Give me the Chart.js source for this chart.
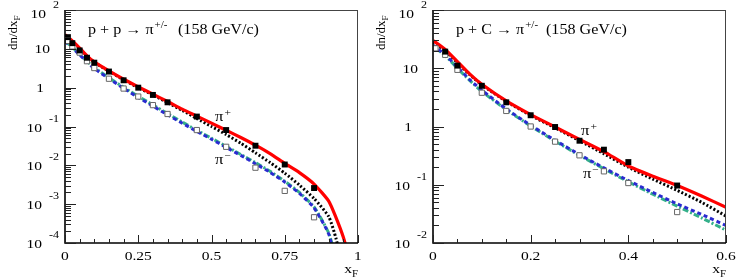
<!DOCTYPE html>
<html>
<head>
<meta charset="utf-8">
<script src="https://cdn.jsdelivr.net/npm/chart.js@4"></script>
<style>
  body { margin: 0; background: #fff; }
  canvas { position: absolute; top: 0; }
</style>
</head>
<body>
<canvas id="pp" width="368" height="278" style="left:0"></canvas>
<canvas id="pc" width="368" height="278" style="left:368px"></canvas>
<script>
// ---- p + p data (NA49 style points) ----
const ppPlusX = [0.01, 0.025, 0.05, 0.075, 0.1, 0.15, 0.2, 0.25, 0.3, 0.35, 0.45, 0.55, 0.65, 0.75, 0.85];
const ppPlus = [20, 14, 9.1, 5.9, 4.4, 2.6, 1.55, 1.0, 0.65, 0.42, 0.18, 0.081, 0.032, 0.0105, 0.0026];
const ppMinusX = [0.01, 0.025, 0.05, 0.075, 0.1, 0.15, 0.2, 0.25, 0.3, 0.35, 0.45, 0.55, 0.65, 0.75, 0.85];
const ppMinus = [16, 11.5, 8.0, 4.8, 3.2, 1.7, 0.95, 0.59, 0.355, 0.21, 0.081, 0.03, 0.0087, 0.0022, 0.00046];

// model curves p + p
const ppModelX = [0, 0.025, 0.05, 0.075, 0.1, 0.15, 0.2, 0.25, 0.3, 0.35, 0.4, 0.45, 0.5, 0.55, 0.6, 0.65, 0.7, 0.75, 0.8, 0.85, 0.9, 0.925, 0.95, 0.975];
const ppRed = [23, 16, 10.5, 6.6, 4.6, 2.7, 1.65, 1.05, 0.68, 0.44, 0.28, 0.185, 0.122, 0.08, 0.052, 0.033, 0.02, 0.0112, 0.0065, 0.0033, 0.0012, 0.00045, 0.00014, 0.00003];
const ppBlack = [21, 15, 10, 6.4, 4.5, 2.65, 1.6, 1.0, 0.65, 0.41, 0.26, 0.16, 0.1, 0.062, 0.037, 0.021, 0.0118, 0.0063, 0.0031, 0.0014, 0.00048, 0.00013, 0.00002, 0.000005];
const ppGreen = [16, 11, 7.3, 4.8, 3.3, 1.8, 1.02, 0.6, 0.36, 0.215, 0.13, 0.08, 0.05, 0.031, 0.019, 0.0118, 0.007, 0.0039, 0.002, 0.00085, 0.00018, 0.00004, 0.00001, 0.000002];
const ppBlue = [15.5, 10.5, 7.0, 4.6, 3.1, 1.7, 0.96, 0.56, 0.335, 0.2, 0.122, 0.075, 0.047, 0.029, 0.018, 0.011, 0.0066, 0.0037, 0.0019, 0.0008, 0.00017, 0.00003, 0.00001, 0.000002];

// ---- p + C data ----
const pcPlusX = [0.025, 0.05, 0.1, 0.15, 0.2, 0.25, 0.3, 0.35, 0.4, 0.5];
const pcPlus = [19.3, 11.1, 5.0, 2.6, 1.56, 0.98, 0.57, 0.40, 0.245, 0.097];
const pcMinusX = [0.005, 0.025, 0.05, 0.1, 0.15, 0.2, 0.25, 0.3, 0.35, 0.4, 0.5];
const pcMinus = [22, 17, 9.4, 3.8, 1.85, 1.0, 0.55, 0.32, 0.17, 0.107, 0.034];

const pcModelX = [0, 0.025, 0.05, 0.075, 0.1, 0.15, 0.2, 0.25, 0.3, 0.35, 0.4, 0.45, 0.5, 0.55, 0.6];
const pcRed = [30, 21, 13, 8.0, 5.3, 2.75, 1.6, 0.98, 0.6, 0.37, 0.21, 0.14, 0.097, 0.064, 0.041];
const pcBlack = [28, 20, 12.5, 7.8, 5.2, 2.7, 1.55, 0.95, 0.57, 0.34, 0.2, 0.125, 0.08, 0.05, 0.029];
const pcBlue = [25, 17, 10.5, 6.4, 4.2, 2.0, 1.05, 0.58, 0.33, 0.195, 0.118, 0.074, 0.047, 0.031, 0.02];
const pcGreen = [24, 16.5, 10, 6.2, 4.0, 1.95, 1.02, 0.56, 0.32, 0.188, 0.112, 0.069, 0.043, 0.027, 0.0166];

// tick labels
const ppXTicks = [0, 0.25, 0.5, 0.75, 1];
const ppXTickLabels = ['0', '0.25', '0.5', '0.75', '1'];
const ppYExp = [2, 1, 0, -1, -2, -3, -4];
const pcXTicks = [0, 0.2, 0.4, 0.6];
const pcXTickLabels = ['0', '0.2', '0.4', '0.6'];
const pcYExp = [2, 1, 0, -1, -2];

const FONT = '"Liberation Serif", "Times New Roman", serif';
const SX = 1.15; // text in the reference is a bit wide

function txt(ctx, s, x, y, size, align) {
  ctx.save();
  ctx.font = size + 'px ' + FONT;
  ctx.translate(x, y);
  ctx.scale(SX, 1);
  ctx.textAlign = align || 'left';
  ctx.textBaseline = 'alphabetic';
  ctx.fillStyle = '#000';
  ctx.fillText(s, 0, 0);
  ctx.restore();
}
function txtW(ctx, s, size) {
  ctx.save();
  ctx.font = size + 'px ' + FONT;
  const w = ctx.measureText(s).width * SX;
  ctx.restore();
  return w;
}

function pts(xs, ys) {
  return xs.map((x, i) => ({ x: x, y: ys[i] }));
}

// frame, ticks and all the text, drawn after the data
const rootAxes = {
  id: 'rootAxes',
  afterDraw(chart, args, o) {
    const ctx = chart.ctx;
    const a = chart.chartArea;
    const xs = chart.scales.x, ys = chart.scales.y;
    ctx.save();
    // frame
    ctx.strokeStyle = '#444';
    ctx.lineWidth = 1;
    ctx.beginPath();
    ctx.moveTo(a.left, a.top + 0.5); ctx.lineTo(a.right, a.top + 0.5);
    ctx.moveTo(a.right - 0.5, a.top); ctx.lineTo(a.right - 0.5, a.bottom);
    ctx.stroke();
    ctx.strokeStyle = '#000';
    ctx.lineWidth = 1.6;
    ctx.beginPath();
    ctx.moveTo(a.left, a.top); ctx.lineTo(a.left, a.bottom); ctx.lineTo(a.right, a.bottom);
    ctx.stroke();

    // y ticks (inside, major at decades)
    ctx.lineWidth = 1;
    ctx.strokeStyle = '#222';
    ctx.beginPath();
    const eMin = Math.min.apply(null, o.yExp), eMax = Math.max.apply(null, o.yExp);
    for (let e = eMin; e < eMax; e++) {
      for (let m = 1; m < 10; m++) {
        const yy = Math.round(ys.getPixelForValue(m * Math.pow(10, e))) + 0.5;
        const len = m === 1 ? 11 : 6;
        ctx.moveTo(a.left, yy); ctx.lineTo(a.left + len, yy);
      }
    }
    ctx.moveTo(a.left, a.top + 0.5); ctx.lineTo(a.left + 11, a.top + 0.5);
    // x ticks
    const nMinor = Math.round(o.xMax / o.xMinor);
    for (let i = 0; i <= nMinor; i++) {
      const v = i * o.xMinor;
      const xx = Math.round(xs.getPixelForValue(v)) + 0.5;
      const major = o.xTicks.some(t => Math.abs(t - v) < 1e-6);
      ctx.moveTo(xx, a.bottom); ctx.lineTo(xx, a.bottom - (major ? 8 : 4));
    }
    ctx.stroke();

    // y tick labels
    o.yExp.forEach(e => {
      const yy = ys.getPixelForValue(Math.pow(10, e));
      if (e === 0) {
        txt(ctx, '1', 44, yy + 4.5, 13.5, 'right');
      } else if (e === 1) {
        txt(ctx, '10', 50, yy + 4.5, 13.5, 'right');
      } else {
        const ex = e < 0 ? '-' + (-e) : String(e);
        const base = e === 2 ? yy + 7.5 : yy + 5;
        txt(ctx, ex, 59, e === 2 ? 8 : yy - 5, 10.5, 'right');
        const exW = txtW(ctx, ex, 10.5);
        txt(ctx, '10', 59 - exW - 7, base, 13.5, 'right');
      }
    });
    // x tick labels
    o.xTicks.forEach((t, i) => {
      txt(ctx, o.xLabels[i], xs.getPixelForValue(t), a.bottom + 17, 13.5, 'center');
    });

    // axis titles
    txt(ctx, 'F', a.right, a.bottom + 34, 9.5, 'right');
    txt(ctx, 'x', a.right - txtW(ctx, 'F', 9.5), a.bottom + 30, 13.5, 'right');
    ctx.save();
    ctx.translate(17, 50);
    ctx.rotate(-Math.PI / 2);
    ctx.font = '13px ' + FONT;
    ctx.fillStyle = '#000';
    ctx.fillText('dn/dx', 0, 0);
    const w = ctx.measureText('dn/dx').width;
    ctx.font = '9px ' + FONT;
    ctx.fillText('F', w, 3);
    ctx.restore();

    // panel title
    let x0 = 88;
    txt(ctx, o.title, x0, 34, 14, 'left');
    x0 += txtW(ctx, o.title, 14) + 1;
    txt(ctx, '+/-', x0, 28, 9.5, 'left');
    txt(ctx, '(158 GeV/c)', 178, 34, 14, 'left');

    // pi labels
    o.piLabels.forEach(p => {
      const px = xs.getPixelForValue(p.x), py = ys.getPixelForValue(p.y);
      txt(ctx, '\u03c0', px, py + 4, 14.5, 'left');
      txt(ctx, p.s, px + txtW(ctx, '\u03c0', 14.5) + 1, py - 1, 10, 'left');
    });
    ctx.restore();
  }
};

function lineSet(data, color, width, dash, order) {
  return {
    data: data, borderColor: color, borderWidth: width, borderDash: dash,
    pointRadius: 0, fill: false, tension: 0.2, order: order, clip: 0,
    borderCapStyle: 'butt'
  };
}
function markSet(data, filled, order) {
  return {
    data: data, showLine: false, pointStyle: 'rect', pointRadius: filled ? 4.2 : 3.7,
    pointBackgroundColor: filled ? '#000' : '#fff',
    pointBorderColor: filled ? '#000' : '#666',
    pointBorderWidth: filled ? 0 : 1, order: order
  };
}

function makeChart(id, mx, red, black, green, blue, plus, minus, o) {
  return new Chart(document.getElementById(id), {
    type: 'line',
    data: {
      datasets: [
        markSet(plus, true, 0),
        markSet(minus, false, 1),
        lineSet(pts(mx, red), '#ff0000', 3.2, [], 2),
        lineSet(pts(mx, black), '#000', 3, [2, 2], 3),
        lineSet(pts(mx, blue), '#2a2ad0', 3, [4, 3], 4),
        lineSet(pts(mx, green), '#34b08a', 3, [6, 2, 2, 2], 5)
      ]
    },
    options: {
      responsive: false,
      animation: false,
      devicePixelRatio: 1,
      layout: { padding: { left: 65, right: 10, top: 10, bottom: 35 } },
      plugins: { legend: { display: false }, tooltip: { enabled: false }, rootAxes: o },
      scales: {
        x: { type: 'linear', min: 0, max: o.xMax, display: false },
        y: { type: 'logarithmic', min: Math.pow(10, Math.min.apply(null, o.yExp)), max: 100, display: false }
      }
    },
    plugins: [rootAxes]
  });
}

makeChart('pp', ppModelX, ppRed, ppBlack, ppGreen, ppBlue,
  pts(ppPlusX, ppPlus), pts(ppMinusX, ppMinus), {
    xMax: 1, xMinor: 0.05, xTicks: ppXTicks, xLabels: ppXTickLabels, yExp: ppYExp,
    title: 'p + p \u2192 \u03c0',
    piLabels: [{ x: 0.512, y: 0.176, s: '+' }, { x: 0.512, y: 0.0135, s: '\u2212' }]
  });

makeChart('pc', pcModelX, pcRed, pcBlack, pcGreen, pcBlue,
  pts(pcPlusX, pcPlus), pts(pcMinusX, pcMinus), {
    xMax: 0.6, xMinor: 0.05, xTicks: pcXTicks, xLabels: pcXTickLabels, yExp: pcYExp,
    title: 'p + C \u2192 \u03c0',
    piLabels: [{ x: 0.303, y: 0.84, s: '+' }, { x: 0.307, y: 0.155, s: '\u2212' }]
  });
</script>
</body>
</html>
